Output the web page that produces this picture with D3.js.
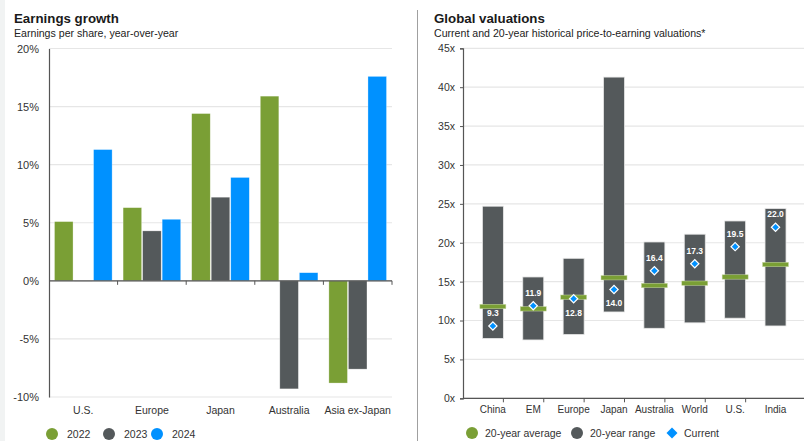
<!DOCTYPE html>
<html>
<head>
<meta charset="utf-8">
<script src="https://cdn.jsdelivr.net/npm/d3@7"></script>
<style>
  html, body { margin: 0; padding: 0; background: #fff; }
  svg { display: block; font-family: Arial, "Liberation Sans", Helvetica, sans-serif; }
</style>
</head>
<body>
<svg id="chart" width="804" height="441"></svg>
<script>
// Earnings growth (left panel)
const regions = ["U.S.", "Europe", "Japan", "Australia", "Asia ex-Japan"];
const years = ["2022", "2023", "2024"];
const growth2022 = [5.1, 6.3, 14.4, 15.9, -8.8];
const growth2023 = [0.0, 4.3, 7.2, -9.3, -7.6];
const growth2024 = [11.3, 5.3, 8.9, 0.7, 17.6];
const growthTicks = [-10, -5, 0, 5, 10, 15, 20];

// Global valuations (right panel)
const markets = ["China", "EM", "Europe", "Japan", "Australia", "World", "U.S.", "India"];
const rangeLow = [7.7, 7.5, 8.2, 11.1, 9.0, 9.7, 10.3, 9.3];
const rangeHigh = [24.7, 15.6, 18.0, 41.3, 20.1, 21.1, 22.8, 24.4];
const average20y = [11.8, 11.5, 13.0, 15.5, 14.5, 14.8, 15.6, 17.2];
const currentPE = [9.3, 11.9, 12.8, 14.0, 16.4, 17.3, 19.5, 22.0];
const peTicks = [0, 5, 10, 15, 20, 25, 30, 35, 40, 45];

const GREEN = "#7a9f35", GRAY = "#54595b", BLUE = "#0091ff";
const GRID = "#e6e6e6", AXIS = "#555", TEXT = "#333";

const svg = d3.select("#chart");

// page edge strip and panel divider
svg.append("rect").attr("x", 0).attr("y", 0).attr("width", 5).attr("height", 441).attr("fill", "#f1f3f3");
svg.append("line").attr("x1", 417.5).attr("x2", 417.5).attr("y1", 10).attr("y2", 441)
  .attr("stroke", "#a0a0a0").attr("stroke-width", 1);

function titles(x, title, sub) {
  svg.append("text").attr("x", x).attr("y", 23).attr("font-size", 13.3).attr("font-weight", "bold")
    .attr("fill", "#1a1a1a").text(title);
  svg.append("text").attr("x", x).attr("y", 37).attr("font-size", 10.6).attr("fill", "#222").text(sub);
}

// ---------- left panel ----------
titles(14, "Earnings growth", "Earnings per share, year-over-year");

const y1 = d3.scaleLinear().domain([-10, 20]).range([397, 48.5]);
const x1 = d3.scaleBand().domain(regions).range([49, 392]).paddingInner(0.16).paddingOuter(0.08);
const xs = d3.scaleBand().domain(years).range([0, x1.bandwidth()]).paddingInner(0.05);
const bandStep1 = x1.step();

const left = svg.append("g");
left.append("g").selectAll("line").data(growthTicks).join("line")
  .attr("x1", 49).attr("x2", 392).attr("y1", d => y1(d)).attr("y2", d => y1(d))
  .attr("stroke", GRID).attr("stroke-width", 1.2);

const yAxis1 = d3.axisLeft(y1).tickValues(growthTicks).tickSize(0).tickPadding(10).tickFormat(d => d + "%");
left.append("g").attr("transform", "translate(49,0)").call(yAxis1)
  .call(g => g.select(".domain").attr("stroke", AXIS).attr("stroke-width", 1.2))
  .call(g => g.selectAll("text").attr("font-size", 11).attr("fill", TEXT).attr("font-family", "Arial, 'Liberation Sans', sans-serif"));

const seriesByYear = { "2022": growth2022, "2023": growth2023, "2024": growth2024 };
const colorByYear = { "2022": GREEN, "2023": GRAY, "2024": BLUE };
const barData = [];
regions.forEach((r, i) => years.forEach(yr => barData.push({ r, yr, v: seriesByYear[yr][i] })));

left.append("g").selectAll("rect").data(barData).join("rect")
  .attr("x", d => x1(d.r) + xs(d.yr))
  .attr("width", xs.bandwidth())
  .attr("y", d => Math.min(y1(d.v), y1(0)))
  .attr("height", d => Math.max(Math.abs(y1(d.v) - y1(0)), d.v === 0 ? 1 : 0))
  .attr("fill", d => d.v === 0 ? "#ddd" : colorByYear[d.yr])
  .attr("stroke", "#fff").attr("stroke-opacity", 0.5).attr("stroke-width", 0.6);

// zero baseline with category ticks
left.append("line").attr("x1", 49).attr("x2", 392).attr("y1", y1(0)).attr("y2", y1(0))
  .attr("stroke", AXIS).attr("stroke-width", 1.2);
left.append("g").selectAll("line").data(d3.range(1, regions.length + 1)).join("line")
  .attr("x1", d => 49 + d * bandStep1).attr("x2", d => 49 + d * bandStep1)
  .attr("y1", y1(0)).attr("y2", y1(0) + 4).attr("stroke", AXIS);

left.append("g").selectAll("text").data(regions).join("text")
  .attr("x", d => x1(d) + x1.bandwidth() / 2).attr("y", 414)
  .attr("text-anchor", "middle").attr("font-size", 10.5).attr("fill", TEXT).text(d => d);

// legend
const leg1 = left.append("g").selectAll("g").data(years).join("g")
  .attr("transform", (d, i) => `translate(${[52, 109, 157][i]},434)`);
leg1.append("circle").attr("r", 6).attr("fill", d => colorByYear[d]);
leg1.append("text").attr("x", 15).attr("y", 4).attr("font-size", 10.5).attr("fill", TEXT).text(d => d);

// ---------- right panel ----------
titles(434, "Global valuations", "Current and 20-year historical price-to-earning valuations*");

const y2 = d3.scaleLinear().domain([0, 45]).range([398.3, 48.3]);
const x2 = d3.scaleBand().domain(markets).range([463, 805.4]).padding(0.48);
const bandStep2 = x2.step();
const right = svg.append("g");

right.append("g").selectAll("line").data(peTicks).join("line")
  .attr("x1", 463).attr("x2", 804).attr("y1", d => y2(d)).attr("y2", d => y2(d))
  .attr("stroke", GRID).attr("stroke-width", 1.2);

const yAxis2 = d3.axisLeft(y2).tickValues(peTicks).tickSize(3).tickPadding(5).tickFormat(d => d + "x");
right.append("g").attr("transform", "translate(463,0)").call(yAxis2)
  .call(g => g.select(".domain").attr("stroke", AXIS).attr("stroke-width", 1.2))
  .call(g => g.selectAll(".tick line").attr("stroke", AXIS))
  .call(g => g.selectAll("text").attr("font-size", 10.5).attr("fill", TEXT).attr("font-family", "Arial, 'Liberation Sans', sans-serif"));

const peData = markets.map((m, i) => ({
  m, lo: rangeLow[i], hi: rangeHigh[i], avg: average20y[i], cur: currentPE[i]
}));

right.append("g").selectAll("rect").data(peData).join("rect")
  .attr("x", d => x2(d.m)).attr("width", x2.bandwidth())
  .attr("y", d => y2(d.hi)).attr("height", d => y2(d.lo) - y2(d.hi))
  .attr("fill", GRAY).attr("stroke", "#e8e8e8").attr("stroke-width", 0.8);

right.append("g").selectAll("rect").data(peData).join("rect")
  .attr("x", d => x2(d.m) - 2.5).attr("width", x2.bandwidth() + 5)
  .attr("y", d => y2(d.avg) - 2.2).attr("height", 4.4)
  .attr("fill", GREEN).attr("stroke", "#c9d9a8").attr("stroke-width", 0.5);

const diamond = d3.symbol().type(d3.symbolSquare).size(34);
right.append("g").selectAll("path").data(peData).join("path")
  .attr("d", diamond)
  .attr("transform", d => `translate(${x2(d.m) + x2.bandwidth() / 2},${y2(d.cur)}) rotate(45)`)
  .attr("fill", BLUE).attr("stroke", "#fff").attr("stroke-width", 1.2);

// value labels: below the marker when the average line sits just above it
right.append("g").selectAll("text").data(peData).join("text")
  .attr("x", d => x2(d.m) + x2.bandwidth() / 2)
  .attr("y", d => {
    const below = d.avg - d.cur > 0 && d.avg - d.cur < 2;
    return below ? y2(d.cur) + 17 : y2(d.cur) - 10;
  })
  .attr("text-anchor", "middle").attr("font-size", 8.5).attr("font-weight", "bold")
  .attr("fill", "#fff").text(d => d3.format(".1f")(d.cur));

right.append("line").attr("x1", 463).attr("x2", 804).attr("y1", y2(0)).attr("y2", y2(0))
  .attr("stroke", AXIS).attr("stroke-width", 1.2);
right.append("g").selectAll("line").data(d3.range(1, markets.length)).join("line")
  .attr("x1", d => 463 + d * bandStep2).attr("x2", d => 463 + d * bandStep2)
  .attr("y1", y2(0)).attr("y2", y2(0) + 4).attr("stroke", AXIS);

right.append("g").selectAll("text").data(markets).join("text")
  .attr("x", d => x2(d) + x2.bandwidth() / 2).attr("y", 413)
  .attr("text-anchor", "middle").attr("font-size", 10).attr("fill", TEXT).text(d => d);

// legend
const leg2 = right.append("g");
leg2.append("circle").attr("cx", 472).attr("cy", 433).attr("r", 6).attr("fill", GREEN);
leg2.append("text").attr("x", 485).attr("y", 437).attr("font-size", 10.5).attr("fill", TEXT).text("20-year average");
leg2.append("circle").attr("cx", 577).attr("cy", 433).attr("r", 6).attr("fill", GRAY);
leg2.append("text").attr("x", 590).attr("y", 437).attr("font-size", 10.5).attr("fill", TEXT).text("20-year range");
leg2.append("path").attr("d", d3.symbol().type(d3.symbolSquare).size(60))
  .attr("transform", "translate(672,433) rotate(45)").attr("fill", BLUE);
leg2.append("text").attr("x", 684).attr("y", 437).attr("font-size", 10.5).attr("fill", TEXT).text("Current");
</script>
</body>
</html>
